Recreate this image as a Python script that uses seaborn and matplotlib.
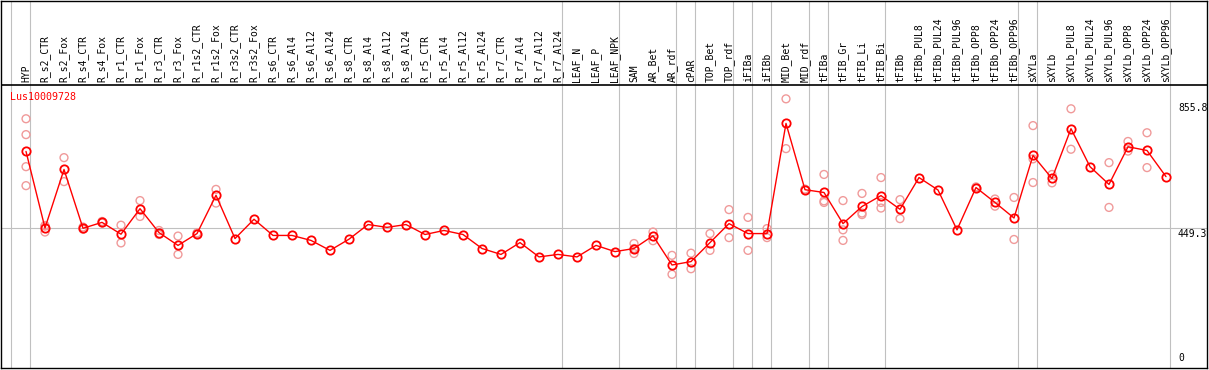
import pandas as pd
import matplotlib.pyplot as plt
import seaborn as sns

sns.set_style("white")
plt.rcParams["font.family"] = ["DejaVu Sans Mono"]

gene = "Lus10009728"

samples = ["HYP", "R_s2_CTR", "R_s2_Fox", "R_s4_CTR", "R_s4_Fox", "R_r1_CTR", "R_r1_Fox",
           "R_r3_CTR", "R_r3_Fox", "R_r1s2_CTR", "R_r1s2_Fox", "R_r3s2_CTR", "R_r3s2_Fox",
           "R_s6_CTR", "R_s6_Al4", "R_s6_Al12", "R_s6_Al24", "R_s8_CTR", "R_s8_Al4",
           "R_s8_Al12", "R_s8_Al24", "R_r5_CTR", "R_r5_Al4", "R_r5_Al12", "R_r5_Al24",
           "R_r7_CTR", "R_r7_Al4", "R_r7_Al12", "R_r7_Al24", "LEAF_N", "LEAF_P", "LEAF_NPK",
           "SAM", "AR_Bet", "AR_rdf", "cPAR", "TOP_Bet", "TOP_rdf", "iFIBa", "iFIBb",
           "MID_Bet", "MID_rdf", "tFIBa", "tFIB_Gr", "tFIB_Li", "tFIB_Bi", "tFIBb",
           "tFIBb_PUL8", "tFIBb_PUL24", "tFIBb_PUL96", "tFIBb_OPP8", "tFIBb_OPP24",
           "tFIBb_OPP96", "sXYLa", "sXYLb", "sXYLb_PUL8", "sXYLb_PUL24", "sXYLb_PUL96",
           "sXYLb_OPP8", "sXYLb_OPP24", "sXYLb_OPP96"]

means = [696, 450, 638, 449, 468, 430, 512, 435, 394, 432, 555, 416, 478,
         426, 426, 410, 378, 414, 461, 452, 461, 429, 442, 429, 384,
         365, 403, 357, 365, 357, 394, 374,
         384, 425, 331, 342, 403, 464, 432, 432,
         786, 573, 564, 464, 519, 554, 510,
         612, 572, 444, 580, 532, 482,
         683, 609, 769, 647, 590, 711, 699, 615]

replicates = [[801, 750, 647, 586], [458, 456, 437], [676, 599], [453, 446], [471, 466],
              [459, 402], [538, 487], [442, 429], [424, 365], [434, 431], [574, 530],
              [], [], [], [], [], [], [], [], [], [], [], [], [], [], [], [], [], [],
              [], [], [],
              [400, 384, 368], [437, 409], [362, 301], [369, 319], [432, 378],
              [509, 419], [484, 378], [448, 419],
              [865, 705], [575, 572], [622, 537, 532], [538, 444, 410],
              [561, 498, 493], [612, 532, 514], [541, 480],
              [], [], [], [582, 578], [543, 520], [548, 413],
              [779, 672, 596], [622, 595], [833, 703], [], [660, 516],
              [728, 697], [756, 644], []]

# group separators sit just right of these sample positions
separators = [-1, 0, 28, 31, 34, 35, 37, 38, 39, 41, 42, 45, 52, 53, 60]
y_ticks = [0, 449.3, 855.8]

df = pd.DataFrame({"pos": range(len(samples)), "value": means})
reps = pd.DataFrame([(i, v) for i, r in enumerate(replicates) for v in r],
                    columns=["pos", "value"])

fig = plt.figure(figsize=(12.09, 3.70), dpi=100)
ax = fig.add_axes([1 / 1209, 2 / 370, 1206 / 1209, 367.5 / 370])

px = 1 / 0.3116  # value units per pixel
ax.set_xlim(-1.316, 62.158)
ax.set_ylim(0, 368 * px)

for s in separators:
    ax.axvline(s + 0.23, color="#c0c0c0", lw=0.8, zorder=0)
ax.axhline(449.3, color="#c0c0c0", lw=0.8, zorder=0)
ax.axhline(283 * px, color="black", lw=1.2, zorder=1)

sns.scatterplot(data=reps, x="pos", y="value", ax=ax, marker="o", s=32,
                facecolor="none", edgecolor="#f09a9a", linewidth=1.0, zorder=2)
sns.lineplot(data=df, x="pos", y="value", ax=ax, color="red", lw=1,
             marker="o", ms=6, mfc="none", mec="red", mew=1.3, zorder=3)

for i, name in enumerate(samples):
    ax.text(i, 286 * px, name, rotation=90, ha="center", va="bottom",
            fontsize=7, color="black")

ax.text(-0.842, 271 * px, gene, color="red", fontsize=7.2, va="center", ha="left")

for t in y_ticks:
    va = "bottom" if t == 0 else "top"
    off = 5 * px if t == 0 else -1 * px
    ax.text(60.63, t + off, f"{t:g}" if t == 0 else f"{t}", fontsize=7,
            va=va, ha="left", color="black")

ax.set_xticks([])
ax.set_yticks([])
ax.set_xlabel("")
ax.set_ylabel("")
for sp in ax.spines.values():
    sp.set_color("black")
    sp.set_linewidth(1.0)

fig.savefig("out.png", dpi=100)
